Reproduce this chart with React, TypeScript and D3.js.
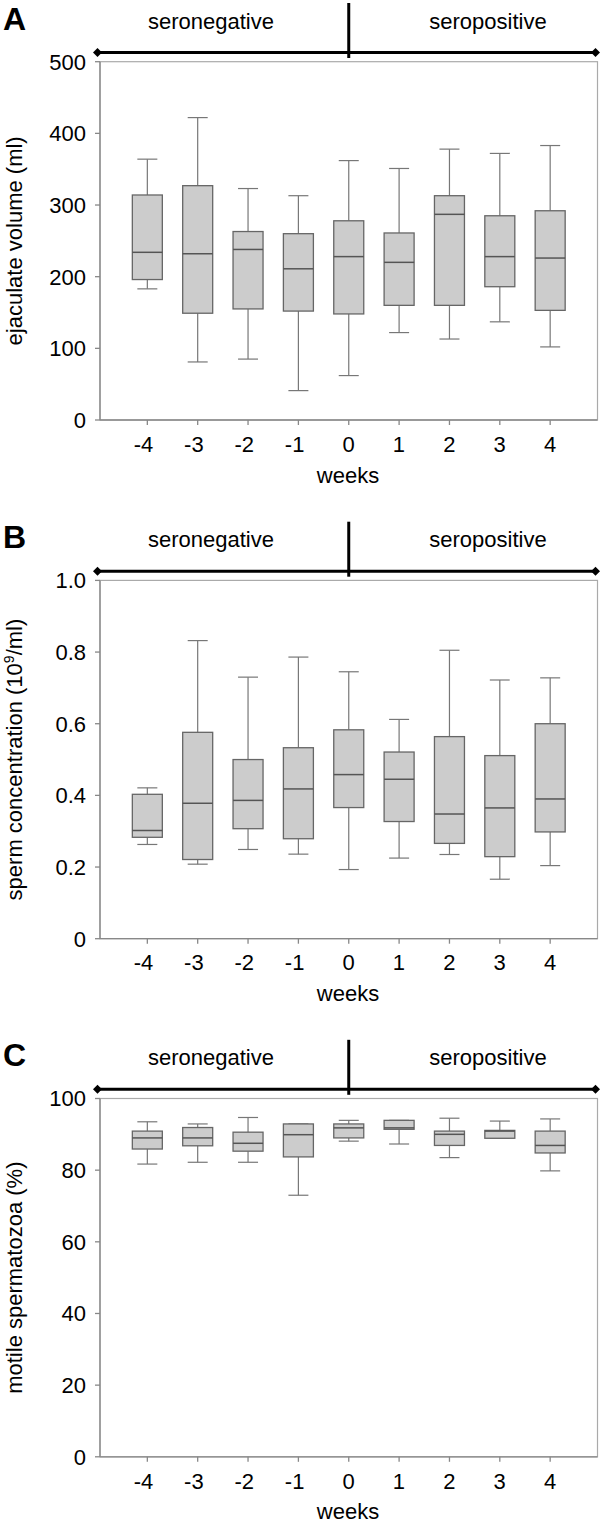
import * as d3 from 'd3';
import React from 'react';

// weeks relative to seroconversion
const weeks = ['-4', '-3', '-2', '-1', '0', '1', '2', '3', '4'];

// [whisker low, Q1, median, Q3, whisker high] per week
const volumeStats: number[][] = [
    [183, 196, 234, 314, 364],
    [81, 149, 232, 327, 422],
    [85, 155, 238, 263, 323],
    [41, 152, 211, 260, 313],
    [62, 148, 228, 278, 362],
    [122, 160, 220, 261, 351],
    [113, 160, 287, 313, 378],
    [137, 186, 228, 285, 372],
    [102, 153, 226, 292, 383],
];

const concentrationStats: number[][] = [
    [0.263, 0.283, 0.302, 0.403, 0.421],
    [0.208, 0.221, 0.378, 0.576, 0.832],
    [0.249, 0.307, 0.386, 0.5, 0.73],
    [0.236, 0.279, 0.418, 0.533, 0.786],
    [0.193, 0.366, 0.458, 0.583, 0.745],
    [0.225, 0.327, 0.445, 0.521, 0.612],
    [0.235, 0.266, 0.348, 0.564, 0.805],
    [0.166, 0.229, 0.365, 0.511, 0.722],
    [0.204, 0.298, 0.39, 0.6, 0.728],
];

const motilityStats: number[][] = [
    [81.7, 85.9, 89.0, 90.9, 93.5],
    [82.2, 86.8, 89.0, 91.9, 92.9],
    [82.2, 85.3, 87.5, 90.6, 94.7],
    [73.0, 83.7, 89.9, 92.9, 92.9],
    [88.1, 89.0, 91.8, 92.9, 93.9],
    [87.3, 91.4, 91.8, 93.9, 93.9],
    [83.5, 86.9, 90.0, 90.9, 94.5],
    [88.9, 88.9, 90.9, 91.1, 93.7],
    [79.8, 84.8, 86.9, 90.9, 94.3],
];

const volumeTicks = [0, 100, 200, 300, 400, 500];
const concentrationTicks = [0, 0.2, 0.4, 0.6, 0.8, 1.0];
const motilityTicks = [0, 20, 40, 60, 80, 100];

const FONT = 'Liberation Sans, Arial, sans-serif';

interface PanelProps {
    top: number;
    letter: string;
    stats: number[][];
    ticks: number[];
    max: number;
    fmt: (v: number) => string;
    title: React.ReactNode;
}

const Panel = ({ top, letter, stats, ticks, max, fmt, title }: PanelProps): React.ReactElement => {
    const left = 100;
    const right = 597.5;
    const plotTop = top + 61.7;
    const plotBottom = top + 420;

    const x = d3.scalePoint<string>().domain(weeks).range([left, right]).padding(0.94);
    const y = d3.scaleLinear().domain([0, max]).range([plotBottom, plotTop]);

    const boxW = 30;
    const capW = 20;
    const bracketY = top + 52.5;
    const x0 = x('0') as number;

    return (
        <g fontFamily={FONT}>
            <text x={3} y={top + 29.5} fontSize={32} fontWeight="bold">
                {letter}
            </text>
            {/* seronegative / seropositive bracket */}
            <text x={211} y={top + 28.5} fontSize={22} textAnchor="middle">
                seronegative
            </text>
            <text x={488} y={top + 28.5} fontSize={22} textAnchor="middle">
                seropositive
            </text>
            <line x1={97} x2={595} y1={bracketY} y2={bracketY} stroke="#000" strokeWidth={3} />
            <line x1={x0} x2={x0} y1={top + 3} y2={top + 58} stroke="#000" strokeWidth={3} />
            <path d={`M${93},${bracketY} l4.5,-4.5 l4.5,4.5 l-4.5,4.5 z`} fill="#000" />
            <path d={`M${591},${bracketY} l4.5,-4.5 l4.5,4.5 l-4.5,4.5 z`} fill="#000" />

            {/* frame */}
            <rect
                x={left}
                y={plotTop}
                width={right - left}
                height={plotBottom - plotTop}
                fill="none"
                stroke="#aaa"
                strokeWidth={1.2}
            />
            <line x1={left} x2={left} y1={plotTop} y2={plotBottom} stroke="#888" strokeWidth={1.3} />
            <line x1={left} x2={right} y1={plotBottom} y2={plotBottom} stroke="#888" strokeWidth={1.3} />

            {/* y axis */}
            {ticks.map((t) => (
                <g key={t}>
                    <line x1={left - 5} x2={left} y1={y(t)} y2={y(t)} stroke="#888" strokeWidth={1.3} />
                    <text x={86} y={y(t) + 7.9} fontSize={22} textAnchor="end">
                        {fmt(t)}
                    </text>
                </g>
            ))}
            <text
                transform={`translate(22,${(plotTop + plotBottom) / 2}) rotate(-90)`}
                fontSize={22}
                textAnchor="middle"
            >
                {title}
            </text>

            {/* x axis */}
            {weeks.map((w) => (
                <g key={w}>
                    <line
                        x1={x(w) as number}
                        x2={x(w) as number}
                        y1={plotBottom}
                        y2={plotBottom + 5}
                        stroke="#888"
                        strokeWidth={1.3}
                    />
                    <text x={(x(w) as number) + 6} y={plotBottom + 31.7} fontSize={22} textAnchor="end">
                        {w}
                    </text>
                </g>
            ))}
            <text x={348} y={plotBottom + 62.5} fontSize={22} textAnchor="middle">
                weeks
            </text>

            {/* boxes */}
            {stats.map((s, i) => {
                const cx = x(weeks[i]) as number;
                const [lo, q1, med, q3, hi] = s;
                return (
                    <g key={i}>
                        <line x1={cx} x2={cx} y1={y(hi)} y2={y(q3)} stroke="#777" strokeWidth={1.2} />
                        <line x1={cx} x2={cx} y1={y(q1)} y2={y(lo)} stroke="#777" strokeWidth={1.2} />
                        <line x1={cx - capW / 2} x2={cx + capW / 2} y1={y(hi)} y2={y(hi)} stroke="#777" strokeWidth={1.2} />
                        <line x1={cx - capW / 2} x2={cx + capW / 2} y1={y(lo)} y2={y(lo)} stroke="#777" strokeWidth={1.2} />
                        <rect
                            x={cx - boxW / 2}
                            y={y(q3)}
                            width={boxW}
                            height={y(q1) - y(q3)}
                            fill="#cccccc"
                            stroke="#666"
                            strokeWidth={1.3}
                        />
                        <line x1={cx - boxW / 2} x2={cx + boxW / 2} y1={y(med)} y2={y(med)} stroke="#555" strokeWidth={1.5} />
                    </g>
                );
            })}
        </g>
    );
};

const App = (): React.ReactElement => {
    return (
        <svg
            width={600}
            height={1522}
            style={{ position: 'absolute', left: 0, top: 0, background: '#fff' }}
        >
            <Panel
                top={0}
                letter="A"
                stats={volumeStats}
                ticks={volumeTicks}
                max={500}
                fmt={(v) => String(v)}
                title="ejaculate volume (ml)"
            />
            <Panel
                top={518.7}
                letter="B"
                stats={concentrationStats}
                ticks={concentrationTicks}
                max={1}
                fmt={(v) => (v === 0 ? '0' : v.toFixed(1))}
                title={
                    <>
                        sperm concentration (10
                        <tspan dy={-8} fontSize={14}>
                            9
                        </tspan>
                        <tspan dy={8}>/ml)</tspan>
                    </>
                }
            />
            <Panel
                top={1036.8}
                letter="C"
                stats={motilityStats}
                ticks={motilityTicks}
                max={100}
                fmt={(v) => String(v)}
                title="motile spermatozoa (%)"
            />
        </svg>
    );
};

export default App;
